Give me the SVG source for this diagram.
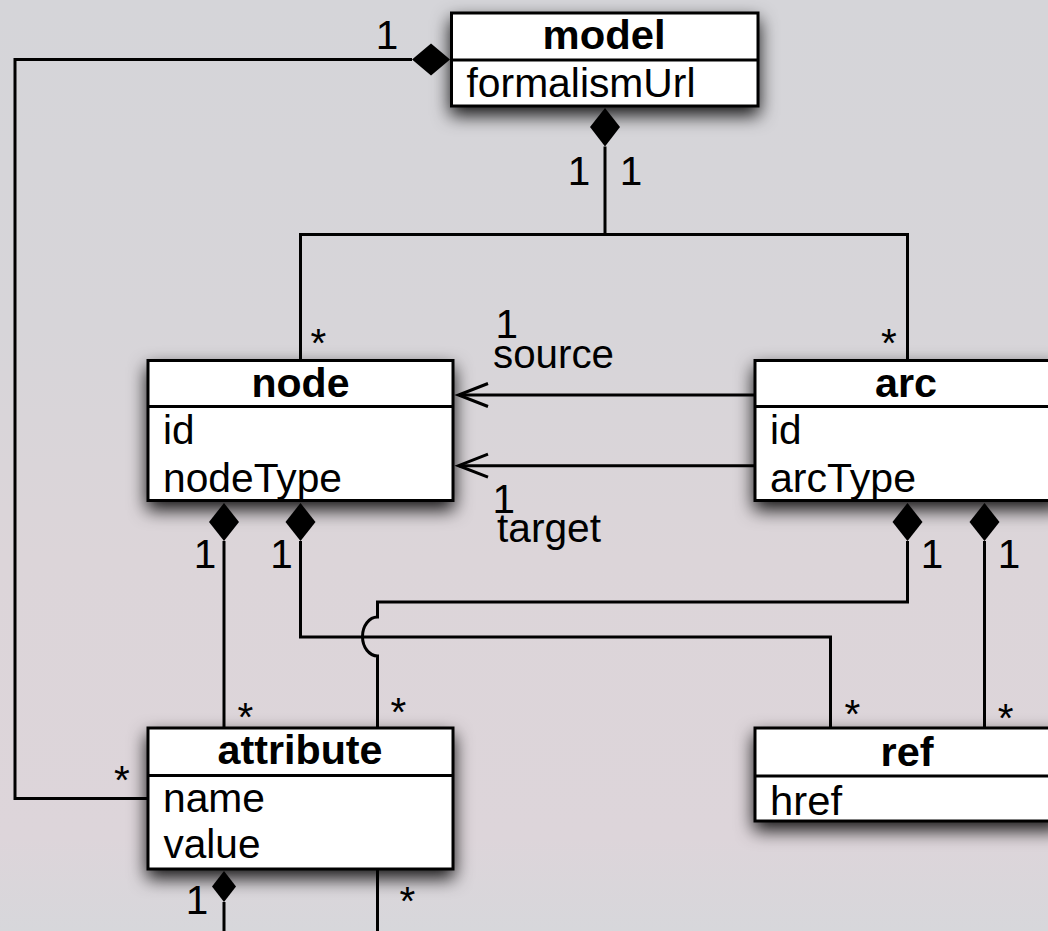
<svg xmlns="http://www.w3.org/2000/svg" width="1048" height="931" viewBox="0 0 1048 931">
  <defs>
    <linearGradient id="bg" x1="0" y1="0" x2="0" y2="1">
      <stop offset="0" stop-color="#d5d5d9"/>
      <stop offset="0.35" stop-color="#d7d5d9"/>
      <stop offset="0.6" stop-color="#dcd5d9"/>
      <stop offset="0.9" stop-color="#ddd5da"/>
      <stop offset="1" stop-color="#d7d7db"/>
    </linearGradient>
    <filter id="shadow" x="-20%" y="-30%" width="140%" height="170%">
      <feDropShadow dx="0" dy="8" stdDeviation="9" flood-color="#000" flood-opacity="0.9"/>
    </filter>
    <style>
      .box { fill: #fff; stroke: #000; stroke-width: 3; }
      .sep { stroke: #000; stroke-width: 3; }
      .title { font-family: "Liberation Sans", Arial, sans-serif; font-weight: bold; font-size: 40.5px; text-anchor: middle; fill: #000; }
      .field { font-family: "Liberation Sans", Arial, sans-serif; font-size: 40.5px; fill: #000; }
      .lbl { font-family: "Liberation Sans", Arial, sans-serif; font-size: 40.5px; text-anchor: middle; fill: #000; }
      .line { fill: none; stroke: #000; stroke-width: 3; }
      .dia { fill: #000; stroke: none; }
    </style>
  </defs>

  <rect x="0" y="0" width="1048" height="931" fill="url(#bg)"/>

  <!-- classes -->
  <g id="model">
    <rect class="box" x="451.5" y="13" width="306.5" height="93" filter="url(#shadow)"/>
    <line class="sep" x1="451.5" y1="60" x2="758" y2="60"/>
    <text class="title" x="604" y="48.5" textLength="123" lengthAdjust="spacingAndGlyphs">model</text>
    <text class="field" x="466.5" y="96.7" textLength="229" lengthAdjust="spacingAndGlyphs">formalismUrl</text>
  </g>

  <g id="node">
    <rect class="box" x="148" y="360.5" width="305" height="140" filter="url(#shadow)"/>
    <line class="sep" x1="148" y1="406.5" x2="453" y2="406.5"/>
    <text class="title" x="300.5" y="396.5" textLength="98" lengthAdjust="spacingAndGlyphs">node</text>
    <text class="field" x="163" y="444">id</text>
    <text class="field" x="163" y="491.7" textLength="179" lengthAdjust="spacingAndGlyphs">nodeType</text>
  </g>

  <g id="arc">
    <rect class="box" x="755" y="360.5" width="305" height="140" filter="url(#shadow)"/>
    <line class="sep" x1="755" y1="406.5" x2="1060" y2="406.5"/>
    <text class="title" x="906" y="396.5" textLength="62" lengthAdjust="spacingAndGlyphs">arc</text>
    <text class="field" x="770" y="444">id</text>
    <text class="field" x="770" y="491.7" textLength="146" lengthAdjust="spacingAndGlyphs">arcType</text>
  </g>

  <g id="attribute">
    <rect class="box" x="148" y="728" width="305" height="141" filter="url(#shadow)"/>
    <line class="sep" x1="148" y1="775.5" x2="453" y2="775.5"/>
    <text class="title" x="300" y="763.5" textLength="165" lengthAdjust="spacingAndGlyphs">attribute</text>
    <text class="field" x="163" y="811.7" textLength="102" lengthAdjust="spacingAndGlyphs">name</text>
    <text class="field" x="163.5" y="858.3" textLength="97" lengthAdjust="spacingAndGlyphs">value</text>
  </g>

  <g id="ref">
    <rect class="box" x="755" y="728" width="305" height="93" filter="url(#shadow)"/>
    <line class="sep" x1="755" y1="776" x2="1060" y2="776"/>
    <text class="title" x="907" y="766" textLength="53" lengthAdjust="spacingAndGlyphs">ref</text>
    <text class="field" x="770" y="814.7" textLength="72" lengthAdjust="spacingAndGlyphs">href</text>
  </g>

  <!-- associations -->
  <g id="connectors">
    <!-- model 1 ◆— * attribute -->
    <path class="line" d="M412,59.5 H15 V798.5 H148"/>
    <polygon class="dia" points="450,59.5 431,43.5 412,59.5 431,75.5"/>

    <!-- model 1 ◆— * node / * arc -->
    <polygon class="dia" points="605,108 620,127 605,146.5 590,127"/>
    <path class="line" d="M605,146.5 V234.5"/>
    <path class="line" d="M300.5,360 V234.5 H907.5 V360"/>

    <!-- arc → node (source / target) -->
    <path class="line" d="M754,395 H459"/>
    <path class="line" d="M488,383.5 L458.5,395 L488,406.5"/>
    <path class="line" d="M754,465.7 H459"/>
    <path class="line" d="M488,454.2 L458.5,465.7 L488,477.2"/>

    <!-- node 1 ◆— * attribute -->
    <polygon class="dia" points="224,503 239,522 224,541 209,522"/>
    <path class="line" d="M224,541 V727"/>

    <!-- node 1 ◆— * ref -->
    <polygon class="dia" points="300.5,503 315.5,522 300.5,541 285.5,522"/>
    <path class="line" d="M300.5,541 V637 H830.5 V728"/>

    <!-- arc 1 ◆— * attribute (hops over node–ref line) -->
    <polygon class="dia" points="907.5,503 922.5,522 907.5,541 892.5,522"/>
    <path class="line" d="M907.5,541 V602 H377.5 V617 A15,19.5 0 0 0 377.5,656 V727"/>

    <!-- arc 1 ◆— * ref -->
    <polygon class="dia" points="984.5,503 999.5,522 984.5,541 969.5,522"/>
    <path class="line" d="M984.5,541 V728"/>

    <!-- attribute 1 ◆— * attribute (continues below) -->
    <polygon class="dia" points="224,871 236,886.5 224,902 212,886.5"/>
    <path class="line" d="M224,902 V931"/>
    <path class="line" d="M377.5,869 V931"/>

    <!-- multiplicities and roles -->
    <text class="lbl" x="387" y="49">1</text>
    <text class="lbl" x="579" y="185">1</text>
    <text class="lbl" x="631" y="185">1</text>
    <text class="lbl" x="318.3" y="357">*</text>
    <text class="lbl" x="889" y="356.5">*</text>
    <text class="field" x="493" y="338.3"><tspan x="495.5">1</tspan><tspan x="493" y="368.3" textLength="121" lengthAdjust="spacingAndGlyphs">source</tspan></text>
    <text class="field" x="492" y="513.3"><tspan x="492.5">1</tspan><tspan x="497" y="541.7" textLength="104" lengthAdjust="spacingAndGlyphs">target</tspan></text>
    <text class="lbl" x="205" y="568.3">1</text>
    <text class="lbl" x="281.5" y="568.3">1</text>
    <text class="lbl" x="932" y="568.3">1</text>
    <text class="lbl" x="1009" y="568.3">1</text>
    <text class="lbl" x="245.5" y="731">*</text>
    <text class="lbl" x="398.3" y="726">*</text>
    <text class="lbl" x="122" y="794">*</text>
    <text class="lbl" x="852.5" y="728">*</text>
    <text class="lbl" x="1005.7" y="732">*</text>
    <text class="lbl" x="197" y="914">1</text>
    <text class="lbl" x="407.5" y="915">*</text>
  </g>
</svg>
